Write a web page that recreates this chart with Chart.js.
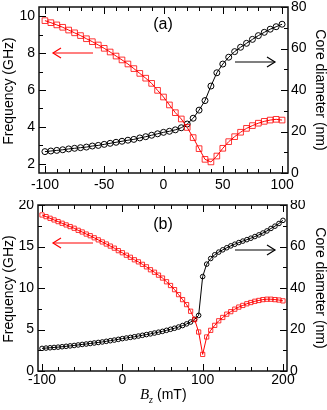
<!DOCTYPE html>
<html>
<head>
<meta charset="utf-8">
<script src="https://cdn.jsdelivr.net/npm/chart.js@4.4.1/dist/chart.umd.min.js"></script>
<style>
  body { margin: 0; background: #fff; }
  canvas { position: absolute; left: 0; }
</style>
</head>
<body>
<canvas id="chartA" width="327" height="200" style="top:0"></canvas>
<canvas id="chartB" width="327" height="210" style="top:200px"></canvas>
<script>
// Panel (a): field Bz (mT), frequency (GHz, left axis), core diameter (nm, right axis)
const bzA = [-100, -95, -90, -85, -80, -75, -70, -65, -60, -55, -50, -45, -40, -35, -30, -25, -20, -15, -10, -5,
  0, 5, 10, 15, 20, 25, 30, 35, 40, 45, 50, 55, 60, 65, 70, 75, 80, 85, 90, 95, 100];
const freqA = [9.76, 9.65, 9.53, 9.40, 9.25, 9.10, 8.95, 8.78, 8.62, 8.44, 8.26, 8.06, 7.84, 7.63, 7.41, 7.16, 6.90, 6.64, 6.36, 5.98,
  5.62, 5.19, 4.77, 4.43, 3.97, 3.42, 2.82, 2.24, 2.10, 2.42, 2.84, 3.20, 3.47, 3.71, 3.92, 4.07, 4.20, 4.30, 4.37, 4.41, 4.37];
const coreA = [10.3, 10.6, 10.9, 11.2, 11.6, 11.9, 12.2, 12.5, 13.0, 13.3, 13.8, 14.3, 14.8, 15.3, 15.8, 16.2, 16.9, 17.5, 18.2, 18.9,
  19.6, 20.1, 20.8, 21.8, 23.6, 26.4, 30.3, 34.9, 41.9, 48.3, 52.5, 55.8, 58.5, 60.6, 62.5, 64.4, 66.2, 67.8, 69.3, 70.5, 71.7];

// Panel (b)
const bzB = [-100, -95, -90, -85, -80, -75, -70, -65, -60, -55, -50, -45, -40, -35, -30, -25, -20, -15, -10, -5,
  0, 5, 10, 15, 20, 25, 30, 35, 40, 45, 50, 55, 60, 65, 70, 75, 80, 85, 90, 95,
  100, 105, 110, 115, 120, 125, 130, 135, 140, 145, 150, 155, 160, 165, 170, 175, 180, 185, 190, 195, 200];
const freqB = [18.8, 18.6, 18.4, 18.2, 18.0, 17.8, 17.6, 17.4, 17.2, 16.95, 16.75, 16.5, 16.3, 16.05, 15.8, 15.55, 15.3, 15.05, 14.8, 14.5,
  14.25, 13.95, 13.7, 13.4, 13.15, 12.85, 12.55, 12.2, 11.9, 11.55, 11.2, 10.75, 10.3, 9.8, 9.2, 8.6, 8.0, 7.2, 6.2, 4.7,
  2.0, 4.1, 4.9, 5.5, 6.05, 6.45, 6.85, 7.15, 7.45, 7.7, 7.9, 8.1, 8.25, 8.4, 8.5, 8.6, 8.65, 8.65, 8.6, 8.55, 8.45];
const coreB = [10.9, 11.05, 11.2, 11.35, 11.5, 11.7, 11.9, 12.1, 12.3, 12.55, 12.8, 13.0, 13.25, 13.5, 13.75, 14.0, 14.3, 14.6, 14.9, 15.25,
  15.6, 15.9, 16.2, 16.5, 16.85, 17.2, 17.55, 17.9, 18.3, 18.7, 19.1, 19.6, 20.1, 20.6, 21.2, 21.9, 22.7, 23.6, 24.9, 26.8,
  45.5, 51.5, 54.2, 56.0, 57.3, 58.4, 59.4, 60.3, 61.1, 61.9, 62.6, 63.3, 64.0, 64.8, 65.6, 66.5, 67.5, 68.7, 69.8, 71.1, 72.6];

// tick labels
const xTicksA = [-100, -50, 0, 50, 100];
const freqTicksA = [2, 4, 6, 8, 10];
const xTicksB = [-100, 0, 100, 200];
const freqTicksB = [0, 5, 10, 15, 20];
const coreTicks = [0, 20, 40, 60, 80];

Chart.defaults.font.family = "'Liberation Sans', Arial, sans-serif";
Chart.defaults.font.size = 14;
Chart.defaults.color = '#000';

const RED = '#ff0000';

// frame, inward ticks, arrows and the texts
const framePlugin = {
  id: 'frame',
  afterDatasetsDraw(chart, args, o) {
    const { ctx, chartArea: a, scales } = chart;
    ctx.save();
    ctx.strokeStyle = '#000';
    ctx.lineWidth = 1;
    const line = (x1, y1, x2, y2) => {
      ctx.beginPath(); ctx.moveTo(x1, y1); ctx.lineTo(x2, y2); ctx.stroke();
    };
    // x ticks, bottom and top
    for (let v = o.xMinor[0]; v <= o.xMinor[1]; v += o.xMinor[2]) {
      const px = Math.round(scales.x.getPixelForValue(v)) + 0.5;
      const len = o.xMajor.includes(v) ? 7 : 4;
      line(px, a.bottom, px, a.bottom - len);
      line(px, a.top, px, a.top + len);
    }
    for (let v = o.yMinor[0]; v <= o.yMinor[1]; v += o.yMinor[2]) {
      const py = Math.round(scales.y.getPixelForValue(v)) + 0.5;
      const len = o.yMajor.includes(v) ? 7 : 4;
      line(a.left, py, a.left + len, py);
    }
    for (let v = 0; v <= 80; v += 10) {
      const py = Math.round(scales.y2.getPixelForValue(v)) + 0.5;
      const len = coreTicks.includes(v) ? 7 : 4;
      line(a.right, py, a.right - len, py);
    }
    ctx.lineWidth = 1.5;
    ctx.strokeStyle = '#111';
    ctx.strokeRect(a.left, a.top, a.right - a.left, a.bottom - a.top);

    // arrows
    const arrow = (x1, x2, y, color) => {
      const d = x2 > x1 ? -1 : 1;
      ctx.strokeStyle = color;
      ctx.lineWidth = 1.2;
      line(x1, y, x2, y);
      ctx.beginPath();
      ctx.moveTo(x2 + d * 8, y - 5);
      ctx.lineTo(x2, y);
      ctx.lineTo(x2 + d * 8, y + 5);
      ctx.stroke();
    };
    arrow(93, 53, o.redArrowY, RED);
    arrow(235, 275, o.blackArrowY, '#000');

    // texts
    ctx.fillStyle = '#000';
    ctx.textAlign = 'center';
    ctx.textBaseline = 'middle';
    ctx.font = "16px 'Liberation Sans', Arial, sans-serif";
    ctx.fillText(o.label, 163, o.labelY);
    const cy = (a.top + a.bottom) / 2;
    ctx.font = "14px 'Liberation Sans', Arial, sans-serif";
    ctx.save();
    ctx.translate(9, cy + 1);
    ctx.rotate(-Math.PI / 2);
    ctx.fillText('Frequency (GHz)', 0, 0);
    ctx.restore();
    ctx.save();
    ctx.translate(320, cy);
    ctx.rotate(Math.PI / 2);
    ctx.fillText('Core diameter (nm)', 0, 0);
    ctx.restore();
    if (o.xTitleY) {
      ctx.textAlign = 'left';
      ctx.font = "italic 15px 'Liberation Serif', serif";
      ctx.fillText('B', 140, o.xTitleY);
      ctx.font = "italic 10px 'Liberation Serif', serif";
      ctx.fillText('z', 149, o.xTitleY + 5);
      ctx.font = "14px 'Liberation Sans', Arial, sans-serif";
      ctx.fillText('(mT)', 157, o.xTitleY);
    }
    ctx.restore();
  }
};

function makePanel(id, p) {
  const freqPts = p.bz.map((b, i) => ({ x: b, y: p.freq[i] }));
  const corePts = p.bz.map((b, i) => ({ x: b, y: p.core[i] }));
  return new Chart(document.getElementById(id), {
    type: 'line',
    data: {
      datasets: [{
        label: 'Frequency',
        data: freqPts,
        yAxisID: 'y',
        borderColor: RED,
        borderWidth: 1,
        pointStyle: 'rect',
        pointRadius: p.sqR,
        pointBorderColor: 'rgba(255,0,0,0.8)',
        pointBackgroundColor: 'rgba(255,255,255,0)',
        pointBorderWidth: 1
      }, {
        label: 'Core diameter',
        data: corePts,
        yAxisID: 'y2',
        borderColor: '#000',
        borderWidth: 1,
        pointStyle: 'circle',
        pointRadius: p.cirR,
        pointBorderColor: '#000',
        pointBackgroundColor: 'rgba(255,255,255,0)',
        pointBorderWidth: 1
      }]
    },
    options: {
      responsive: false,
      animation: false,
      layout: { padding: { top: p.top, left: 0, right: 0, bottom: 0 } },
      plugins: {
        legend: { display: false },
        tooltip: { enabled: false },
        frame: p.frame
      },
      scales: {
        x: {
          type: 'linear',
          min: p.xMin,
          max: p.xMax,
          grid: { display: false, drawTicks: false },
          border: { display: false },
          ticks: { padding: p.xPad, maxRotation: 0, autoSkip: false, callback: v => String(v) },
          afterBuildTicks: s => { s.ticks = p.xTicks.map(v => ({ value: v })); },
          afterFit: s => { s.height = p.xHeight; s.paddingLeft = 0; s.paddingRight = 0; }
        },
        y: {
          position: 'left',
          min: p.yMin,
          max: p.yMax,
          grid: { display: false, drawTicks: false },
          border: { display: false },
          ticks: { padding: 4, callback: v => String(v) },
          afterBuildTicks: s => { s.ticks = p.yTicks.map(v => ({ value: v })); },
          afterFit: s => { s.width = p.leftW; s.paddingTop = 0; s.paddingBottom = 0; }
        },
        y2: {
          position: 'right',
          min: 0,
          max: 80,
          grid: { display: false, drawTicks: false },
          border: { display: false },
          ticks: { padding: 3, callback: v => String(v) },
          afterBuildTicks: s => { s.ticks = coreTicks.map(v => ({ value: v })); },
          afterFit: s => { s.width = p.rightW; s.paddingTop = 0; s.paddingBottom = 0; }
        }
      }
    },
    plugins: [framePlugin]
  });
}

makePanel('chartA', {
  bz: bzA, freq: freqA, core: coreA,
  sqR: 4, cirR: 3,
  top: 7, xHeight: 27, leftW: 39, rightW: 39, xPad: 4,
  xMin: -105, xMax: 105, yMin: 1.5, yMax: 10.5,
  xTicks: xTicksA, yTicks: freqTicksA,
  frame: {
    xMinor: [-100, 100, 10], xMajor: xTicksA,
    yMinor: [2, 10, 1], yMajor: freqTicksA,
    redArrowY: 53, blackArrowY: 62,
    label: '(a)', labelY: 25
  }
});

makePanel('chartB', {
  bz: bzB, freq: freqB, core: coreB,
  sqR: 3, cirR: 2.3,
  top: 4, xHeight: 39, leftW: 38, rightW: 40, xPad: 1,
  xMin: -105, xMax: 205, yMin: 0, yMax: 20,
  xTicks: xTicksB, yTicks: freqTicksB,
  frame: {
    xMinor: [-100, 200, 20], xMajor: xTicksB,
    yMinor: [0, 20, 2.5], yMajor: freqTicksB,
    redArrowY: 43, blackArrowY: 50,
    label: '(b)', labelY: 25,
    xTitleY: 195
  }
});
</script>
</body>
</html>
